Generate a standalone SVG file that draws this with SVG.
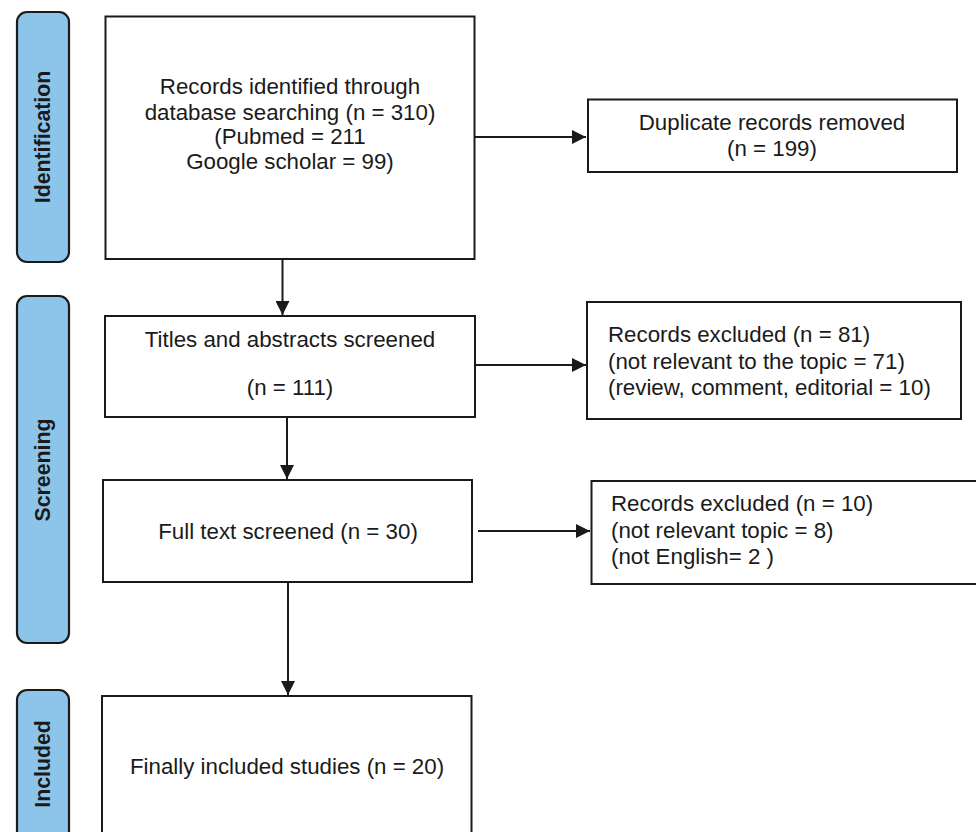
<svg xmlns="http://www.w3.org/2000/svg" width="976" height="832" viewBox="0 0 976 832">
<style>
.pill{fill:#8DC5EA;stroke:#1a1a1a;stroke-width:2.2}
.box{fill:#ffffff;stroke:#1a1a1a;stroke-width:2}
.t{font-family:"Liberation Sans",Arial,sans-serif;font-size:22.3px;fill:#1a1a1a}
.c{text-anchor:middle}
.side{font-family:"Liberation Sans",Arial,sans-serif;font-size:21.3px;font-weight:bold;fill:#1a1a1a;text-anchor:middle}
.conn{stroke:#1a1a1a;stroke-width:2;fill:none;marker-end:url(#ah)}
</style>
<defs>
<marker id="ah" viewBox="0 0 14 14" refX="14" refY="7" markerWidth="14" markerHeight="14" markerUnits="userSpaceOnUse" orient="auto">
<path d="M0,0 L14,7 L0,14 z" fill="#1a1a1a"/>
</marker>
</defs>
<rect width="976" height="832" fill="#ffffff"/>

<g id="phase-identification">
<rect class="pill" x="17" y="12" width="52" height="250" rx="10"/>
<text class="side" transform="translate(50,137) rotate(-90)">Identification</text>
</g>
<g id="phase-screening">
<rect class="pill" x="17" y="296" width="52" height="347" rx="10"/>
<text class="side" transform="translate(50,470) rotate(-90)">Screening</text>
</g>
<g id="phase-included">
<rect class="pill" x="17" y="690" width="52" height="160" rx="10"/>
<text class="side" transform="translate(50,764) rotate(-90)">Included</text>
</g>

<g id="connectors">
<line class="conn" x1="282.5" y1="259" x2="282.5" y2="315"/>
<line class="conn" x1="287" y1="418" x2="287" y2="479"/>
<line class="conn" x1="288" y1="582" x2="288" y2="695"/>
<line class="conn" x1="475" y1="137" x2="586" y2="137"/>
<line class="conn" x1="475" y1="365" x2="586" y2="365"/>
<line class="conn" x1="478" y1="531" x2="590" y2="531"/>
</g>

<g id="records-identified">
<rect class="box" x="105.5" y="16.5" width="369" height="242.5"/>
<text class="t c" x="290" y="94">Records identified through</text>
<text class="t c" x="290" y="119.5">database searching (n = 310)</text>
<text class="t c" x="290" y="144">(Pubmed = 211</text>
<text class="t c" x="290" y="169">Google scholar = 99)</text>
</g>

<g id="duplicates-removed">
<rect class="box" x="588" y="99.5" width="369" height="72.5"/>
<text class="t c" x="772" y="130">Duplicate records removed</text>
<text class="t c" x="772" y="156">(n = 199)</text>
</g>

<g id="titles-abstracts">
<rect class="box" x="105" y="316" width="370" height="101"/>
<text class="t c" x="290" y="347">Titles and abstracts screened</text>
<text class="t c" x="290" y="395">(n = 111)</text>
</g>

<g id="excluded-1">
<rect class="box" x="587" y="302" width="374" height="117"/>
<text class="t" x="608" y="342">Records excluded (n = 81)</text>
<text class="t" x="608" y="368.5">(not relevant to the topic = 71)</text>
<text class="t" x="608" y="395">(review, comment, editorial = 10)</text>
</g>

<g id="full-text">
<rect class="box" x="103" y="480" width="369" height="102"/>
<text class="t c" x="288" y="539">Full text screened (n = 30)</text>
</g>

<g id="excluded-2">
<rect class="box" x="591.5" y="481" width="400" height="103"/>
<text class="t" x="611" y="511">Records excluded (n = 10)</text>
<text class="t" x="611" y="537.5">(not relevant topic = 8)</text>
<text class="t" x="611" y="563.5">(not English= 2 )</text>
</g>

<g id="included-studies">
<rect class="box" x="102" y="696" width="369.5" height="160"/>
<text class="t c" x="287" y="774">Finally included studies (n = 20)</text>
</g>
</svg>
